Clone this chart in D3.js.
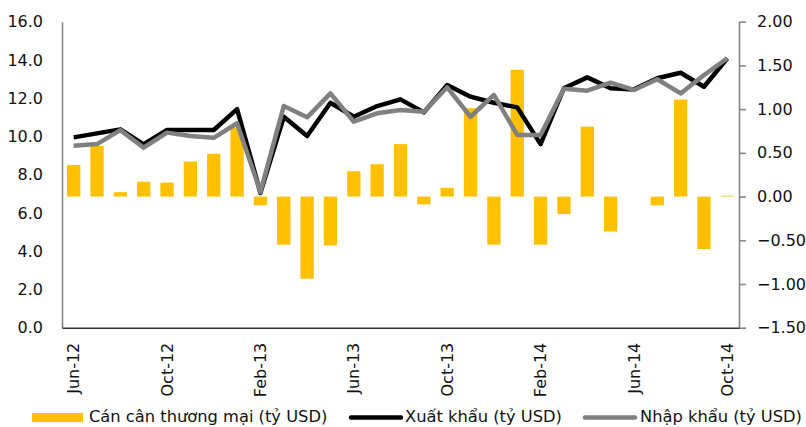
<!DOCTYPE html>
<html>
<head>
<meta charset="utf-8">
<script src="https://cdn.jsdelivr.net/npm/d3@7"></script>
<style>
  html, body { margin: 0; padding: 0; background: #fff; }
  svg { display: block; font-family: "DejaVu Sans", Verdana, sans-serif; }
</style>
</head>
<body>
<svg id="chart" width="806" height="427"></svg>
<script>
const months = ["Jun-12","Jul-12","Aug-12","Sep-12","Oct-12","Nov-12","Dec-12","Jan-13","Feb-13","Mar-13","Apr-13","May-13","Jun-13","Jul-13","Aug-13","Sep-13","Oct-13","Nov-13","Dec-13","Jan-14","Feb-14","Mar-14","Apr-14","May-14","Jun-14","Jul-14","Aug-14","Sep-14","Oct-14"];
const tickLabels = ["Jun-12","Oct-12","Feb-13","Jun-13","Oct-13","Feb-14","Jun-14","Oct-14"];
const balance = [0.36, 0.58, 0.05, 0.17, 0.16, 0.40, 0.49, 0.79, -0.10, -0.55, -0.94, -0.56, 0.29, 0.37, 0.60, -0.09, 0.10, 1.01, -0.55, 1.45, -0.55, -0.20, 0.80, -0.40, 0.00, -0.10, 1.11, -0.60, 0.01];
const exportsV = [9.95, 10.16, 10.37, 9.59, 10.34, 10.34, 10.34, 11.43, 7.05, 11.03, 10.02, 11.76, 11.03, 11.59, 11.94, 11.26, 12.69, 12.08, 11.76, 11.52, 9.60, 12.52, 13.09, 12.52, 12.46, 13.04, 13.33, 12.60, 14.09];
const importsV = [9.52, 9.60, 10.33, 9.41, 10.20, 10.02, 9.93, 10.69, 7.10, 11.59, 11.00, 12.25, 10.77, 11.21, 11.38, 11.29, 12.57, 11.03, 12.17, 10.08, 10.08, 12.50, 12.39, 12.81, 12.43, 12.99, 12.25, 13.21, 14.09];
const leftTicks = [0, 2, 4, 6, 8, 10, 12, 14, 16];
const rightTicks = [-1.5, -1.0, -0.5, 0, 0.5, 1.0, 1.5, 2.0];
const seriesNames = ["Cán cân thương mại (tỷ USD)", "Xuất khẩu (tỷ USD)", "Nhập khẩu (tỷ USD)"];

const svg = d3.select("#chart");
const L = 62, R = 739, T = 21.7, B = 327.7;
const x = d3.scaleBand().domain(months).range([L, R]).paddingInner(0.43).paddingOuter(0.215);
const xc = d => x(d) + x.bandwidth() / 2;
const yL = d3.scaleLinear().domain([0, 16]).range([B, T]);
const yR = d3.scaleLinear().domain([-1.5, 2.0]).range([B, T]);

// bars
svg.append("g").selectAll("rect").data(months).join("rect")
  .attr("x", d => x(d))
  .attr("width", x.bandwidth())
  .attr("y", (d, i) => yR(Math.max(0, balance[i])))
  .attr("height", (d, i) => Math.abs(yR(balance[i]) - yR(0)))
  .attr("fill", "#FFC000");

// lines
const line = arr => d3.line().x((d, i) => xc(months[i])).y(d => yL(d))(arr);
svg.append("path").attr("d", line(exportsV)).attr("fill", "none")
  .attr("stroke", "#000").attr("stroke-width", 4.5).attr("stroke-linejoin", "round");
svg.append("path").attr("d", line(importsV)).attr("fill", "none")
  .attr("stroke", "#808080").attr("stroke-width", 4.5).attr("stroke-linejoin", "round");

// left axis
const gL = svg.append("g").attr("transform", `translate(${L},0)`)
  .call(d3.axisLeft(yL).tickValues(leftTicks).tickFormat(d3.format(".1f")).tickSize(0).tickPadding(19));
gL.select(".domain").attr("stroke", "#868686").attr("stroke-width", 1.6);
gL.selectAll("text").attr("font-size", 16).attr("fill", "#111").attr("font-family", "DejaVu Sans");

// right axis
const gR = svg.append("g").attr("transform", `translate(${R},0)`)
  .call(d3.axisRight(yR).tickValues(rightTicks).tickFormat(d3.format(".2f")).tickSize(7).tickSizeOuter(0).tickPadding(11));
gR.select(".domain").attr("stroke", "#868686").attr("stroke-width", 1.6);
gR.selectAll("line").attr("stroke", "#868686").attr("stroke-width", 1.6);
gR.selectAll("text").attr("font-size", 16).attr("fill", "#111").attr("font-family", "DejaVu Sans");

// bottom axis
const gB = svg.append("g").attr("transform", `translate(0,${B})`)
  .call(d3.axisBottom(x).tickValues(tickLabels).tickSize(0).tickSizeOuter(0));
gB.select(".domain").attr("stroke", "#333").attr("stroke-width", 1.5);
gB.selectAll("text")
  .attr("font-size", 16).attr("fill", "#111").attr("font-family", "DejaVu Sans")
  .attr("transform", "rotate(-90)")
  .attr("text-anchor", "end")
  .attr("x", -15).attr("y", 0).attr("dy", "0.35em");

// legend
const lg = svg.append("g");
lg.append("rect").attr("x", 32).attr("y", 413).attr("width", 51).attr("height", 9).attr("fill", "#FFC000");
lg.append("text").attr("x", 89).attr("y", 422).text(seriesNames[0]);
lg.append("line").attr("x1", 351).attr("x2", 401).attr("y1", 417.5).attr("y2", 417.5)
  .attr("stroke", "#000").attr("stroke-width", 4.5).attr("stroke-linecap", "round");
lg.append("text").attr("x", 405).attr("y", 422).text(seriesNames[1]);
lg.append("line").attr("x1", 585).attr("x2", 635).attr("y1", 417.5).attr("y2", 417.5)
  .attr("stroke", "#808080").attr("stroke-width", 4.5).attr("stroke-linecap", "round");
lg.append("text").attr("x", 640).attr("y", 422).text(seriesNames[2]);
lg.selectAll("text").attr("font-size", 16.3).attr("fill", "#111").attr("font-family", "DejaVu Sans");
</script>
</body>
</html>
